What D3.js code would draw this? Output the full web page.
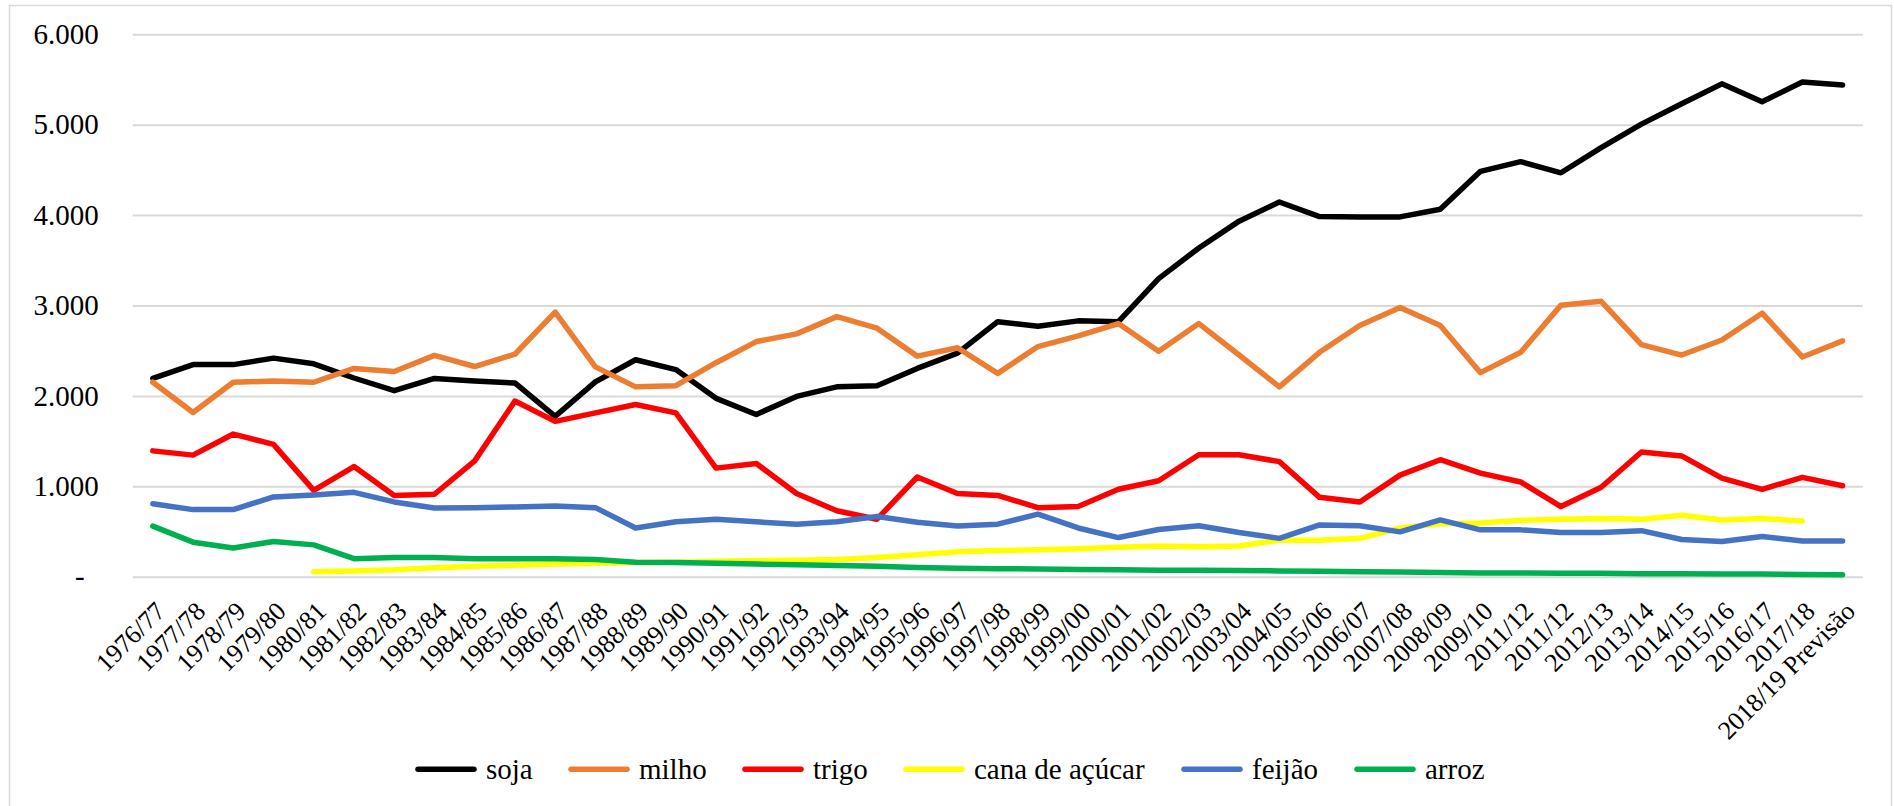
<!DOCTYPE html>
<head>
  <meta charset='utf-8'>
  <script src='https://d3js.org/d3.v7.min.js'></script>
</head>

<body style='margin:0'>
  <script>

const seasons = ['1976/77', '1977/78', '1978/79', '1979/80', '1980/81', '1981/82', '1982/83', '1983/84',
  '1984/85', '1985/86', '1986/87', '1987/88', '1988/89', '1989/90', '1990/91', '1991/92', '1992/93',
  '1993/94', '1994/95', '1995/96', '1996/97', '1997/98', '1998/99', '1999/00', '2000/01', '2001/02',
  '2002/03', '2003/04', '2004/05', '2005/06', '2006/07', '2007/08', '2008/09', '2009/10', '2011/12',
  '2011/12', '2012/13', '2013/14', '2014/15', '2015/16', '2016/17', '2017/18', '2018/19 Previsão'];

const soja = [2193, 2346, 2346, 2418, 2355, 2198, 2058, 2193, 2164, 2143, 1773, 2155, 2400, 2291,
  1973, 1795, 1994, 2100, 2113, 2304, 2473, 2821, 2770, 2830, 2821, 3297, 3636, 3933, 4145, 3984,
  3980, 3980, 4064, 4484, 4591, 4468, 4747, 5006, 5231, 5452, 5253, 5473, 5439];

const milho = [2151, 1816, 2151, 2164, 2151, 2304, 2270, 2448, 2325, 2461, 2927, 2321, 2100, 2113,
  2367, 2601, 2686, 2877, 2749, 2440, 2533, 2249, 2546, 2664, 2800, 2495, 2800, 2452, 2100, 2482,
  2779, 2978, 2779, 2257, 2482, 3004, 3046, 2567, 2452, 2618, 2915, 2431, 2609];

const trigo = [1392, 1345, 1578, 1464, 955, 1218, 899, 912, 1281, 1943, 1718, 1812, 1905, 1812,
  1201, 1252, 921, 730, 636, 1103, 921, 899, 764, 776, 967, 1061, 1349, 1349, 1273, 878,
  827, 1124, 1294, 1146, 1048, 776, 989, 1379, 1336, 1090, 967, 1099, 1006];

const cana = [null, null, null, null, 55, 64, 76, 98, 115, 127, 140, 148, 157, 161,
  170, 178, 182, 191, 212, 242, 276, 289, 297, 310, 326, 339, 331, 339, 403, 403,
  424, 539, 585, 594, 624, 636, 645, 636, 679, 628, 645, 615, null];

const feijao = [806, 742, 742, 882, 904, 933, 827, 759, 764, 772, 781, 764, 539, 607,
  636, 607, 581, 607, 666, 602, 560, 581, 692, 539, 433, 522, 564, 488, 424, 573,
  564, 496, 628, 518, 518, 488, 488, 509, 412, 390, 445, 395, 395];

const arroz = [560, 382, 318, 390, 352, 199, 212, 212, 199, 199, 199, 191, 161, 157,
  148, 140, 132, 123, 115, 102, 93, 89, 85, 81, 76, 72, 72, 68, 64, 59,
  55, 51, 47, 42, 42, 38, 38, 34, 34, 30, 30, 25, 21];

const seriesNames = ['soja', 'milho', 'trigo', 'cana de açúcar', 'feijão', 'arroz'];
const seriesValues = [soja, milho, trigo, cana, feijao, arroz];
const yTicks = [0, 1000, 2000, 3000, 4000, 5000, 6000];

const colors = ['#000000', '#ED7D31', '#FF0000', '#FFFF00', '#4472C4', '#00B050'];
const serif = 'Liberation Serif';

const width = 1894,
  height = 806,
  plot = { left: 132.7, right: 1862.7, top: 34.3, bottom: 576.7 },
  legendX = [418, 571, 745, 906, 1184, 1357];

const svg = d3.select('body').append('svg')
  .attr('width', width).attr('height', height);

// chart frame
svg.append('rect')
  .attr('x', 9.5).attr('y', 5.5)
  .attr('width', 1882).attr('height', 840)
  .attr('fill', '#fff')
  .attr('stroke', '#d9d9d9')
  .attr('stroke-width', 1.5);

const x = d3.scaleBand()
  .domain(d3.range(seasons.length))
  .range([plot.left, plot.right])
  .padding(0);

const y = d3.scaleLinear()
  .domain([0, 6000])
  .range([plot.bottom, plot.top]);

const fmt = v => v === 0 ? '-' : d3.format(',')(v).replace(/,/g, '.');

const grid = svg.append('g')
  .attr('transform', `translate(${plot.left},0)`)
  .call(d3.axisLeft(y).tickValues(yTicks).tickFormat(fmt)
    .tickSizeInner(-(plot.right - plot.left)).tickSizeOuter(0).tickPadding(34));

grid.select('.domain').remove();
grid.selectAll('line').attr('stroke', '#d9d9d9').attr('stroke-width', 2);
grid.selectAll('text')
  .attr('font-size', 29)
  .attr('fill', '#000')
  .style('font-family', serif)
  .attr('dx', d => d === 0 ? -14 : 0);

const xAxis = svg.append('g')
  .attr('transform', `translate(0,${plot.bottom})`)
  .call(d3.axisBottom(x).tickSize(0).tickFormat(i => seasons[i]));

xAxis.select('.domain').remove();
xAxis.selectAll('text')
  .attr('font-size', 26)
  .attr('fill', '#000')
  .style('font-family', serif)
  .attr('x', 0).attr('y', 0).attr('dy', null)
  .attr('text-anchor', 'end')
  .attr('transform', 'translate(14,36) rotate(-45)');

const line = d3.line()
  .defined(d => d != null)
  .x((d, i) => x(i) + x.bandwidth() / 2)
  .y(d => y(d));

svg.append('g')
  .selectAll('path')
  .data(seriesValues)
  .enter().append('path')
  .attr('d', line)
  .attr('fill', 'none')
  .attr('stroke', (d, i) => colors[i])
  .attr('stroke-width', 5.5)
  .attr('stroke-linejoin', 'round')
  .attr('stroke-linecap', 'round');

const items = svg.append('g')
  .selectAll('g')
  .data(seriesNames)
  .enter().append('g')
  .attr('transform', (d, i) => `translate(${legendX[i]},769.3)`);

items.append('line')
  .attr('x1', 0).attr('x2', 56)
  .attr('stroke', (d, i) => colors[i])
  .attr('stroke-width', 5.5)
  .attr('stroke-linecap', 'round');

items.append('text')
  .attr('x', 68)
  .attr('dy', '0.32em')
  .attr('font-size', 29)
  .attr('fill', '#000')
  .style('font-family', serif)
  .text(d => d);

  </script>
</body>
